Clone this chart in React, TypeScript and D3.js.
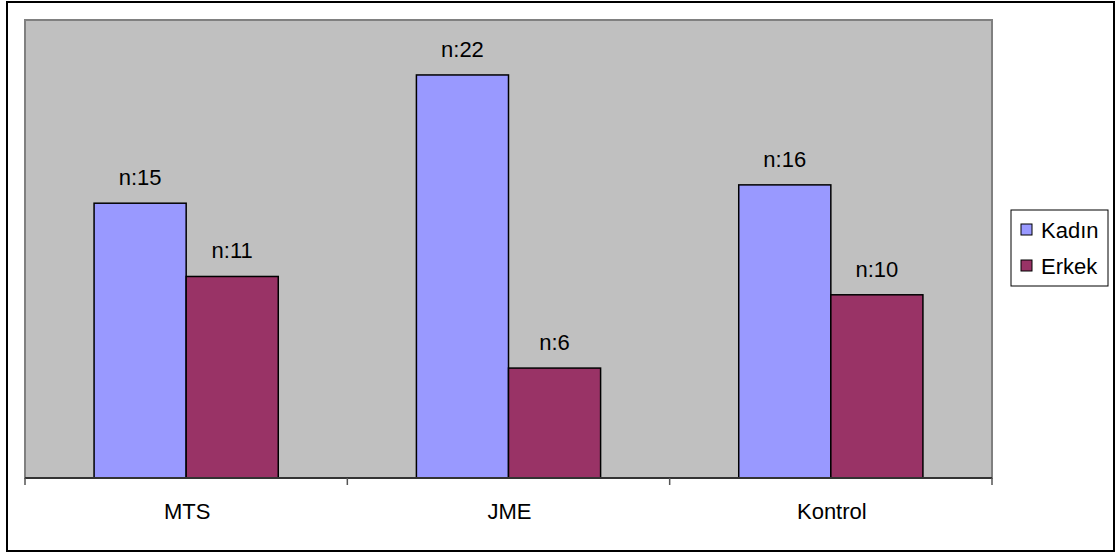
import React from "react";
import * as d3 from "d3";

const categories = ["MTS", "JME", "Kontrol"];
const seriesNames = ["Kadın", "Erkek"];
const kadinValues = [15, 22, 16];
const erkekValues = [11, 6, 10];
const seriesColors = ["#9999FF", "#993366"];
const yDomainMax = 25;

export default function App() {
  const W = 1116, H = 554;
  const plot = { left: 25, right: 992, top: 20, bottom: 478 };
  const x0 = d3.scaleBand<string>().domain(categories).range([plot.left, plot.right]).paddingInner(0).paddingOuter(0);
  const y = d3.scaleLinear().domain([0, yDomainMax]).range([plot.bottom, plot.top]);
  const bw = x0.bandwidth() / 3.5;
  const series = [kadinValues, erkekValues];
  const font = "'Liberation Sans', Arial, sans-serif";
  const tickXs = [...categories.map((c) => x0(c) as number), plot.right];

  return (
    <svg width={W} height={H} style={{ position: "absolute", left: 0, top: 0, background: "#fff" }} fontFamily={font}>
      <rect x={7} y={2} width={1107} height={549} fill="#fff" stroke="#000" strokeWidth={2} />
      <rect x={plot.left} y={plot.top} width={plot.right - plot.left} height={plot.bottom - plot.top} fill="#C0C0C0" stroke="#808080" strokeWidth={2} />
      {categories.map((c, ci) => {
        const cx = (x0(c) as number) + x0.bandwidth() / 2;
        return series.map((vals, si) => {
          const v = vals[ci];
          const bx = cx - bw + si * bw;
          const by = y(v);
          return (
            <g key={c + si}>
              <rect x={bx} y={by} width={bw} height={plot.bottom - by} fill={seriesColors[si]} stroke="#000" strokeWidth={1.5} />
              <text x={bx + bw / 2} y={by - 18} textAnchor="middle" fontSize={22} fill="#000">{"n:" + v}</text>
            </g>
          );
        });
      })}
      <line x1={plot.left} x2={plot.right} y1={plot.bottom} y2={plot.bottom} stroke="#333" strokeWidth={2} />
      {tickXs.map((tx, i) => (
        <line key={i} x1={tx} x2={tx} y1={plot.bottom} y2={plot.bottom + 7} stroke="#555" strokeWidth={1.5} />
      ))}
      {categories.map((c) => (
        <text key={c} x={(x0(c) as number) + x0.bandwidth() / 2 + 1} y={519} textAnchor="middle" fontSize={22} fill="#000">{c}</text>
      ))}
      <rect x={1011} y={210} width={97} height={76} fill="#fff" stroke="#000" strokeWidth={1} />
      {seriesNames.map((s, i) => (
        <g key={s}>
          <rect x={1021} y={224 + i * 36} width={11} height={11} fill={seriesColors[i]} stroke="#000" strokeWidth={1} />
          <text x={1041} y={238 + i * 36} fontSize={22} fill="#000">{s}</text>
        </g>
      ))}
    </svg>
  );
}
